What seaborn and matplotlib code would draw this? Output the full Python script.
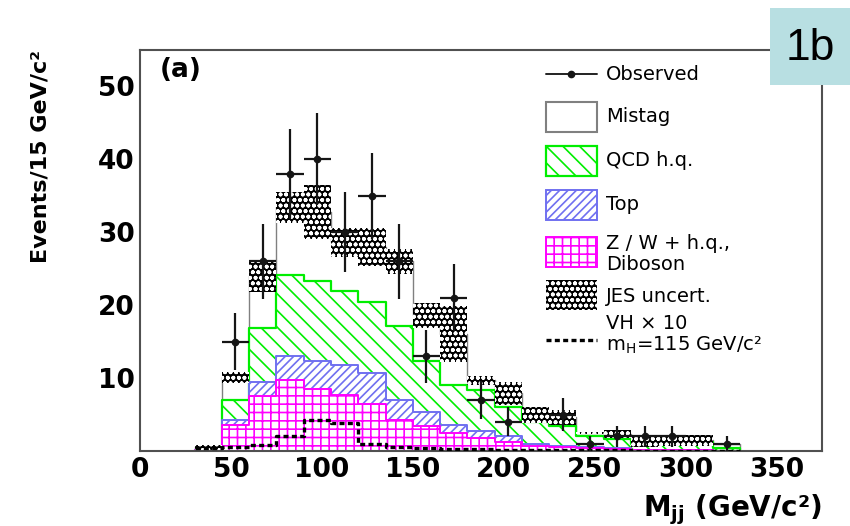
import numpy as np
import matplotlib
matplotlib.use("Agg")
import matplotlib.pyplot as plt
import seaborn as sns
from matplotlib.patches import Rectangle
from matplotlib.lines import Line2D
from matplotlib.transforms import Affine2D

# Dijet invariant mass, 15 GeV/c^2 bins
bin_edges = [30, 45, 60, 75, 90, 105, 120, 135, 150, 165, 180,
             195, 210, 225, 240, 255, 270, 285, 300, 315, 330]

# Background expectations per bin (events)
zw_diboson = [0.1, 3.6, 7.5, 9.8, 8.5, 7.7, 6.4, 4.3, 3.4, 2.5, 1.8,
              1.3, 0.7, 0.5, 0.4, 0.3, 0.15, 0.1, 0.1, 0.05]
top_pairs = [0.05, 0.7, 2.0, 3.2, 3.9, 4.1, 4.3, 2.7, 2.0, 1.1, 0.9,
             0.7, 0.3, 0.2, 0.1, 0.1, 0.05, 0.05, 0.0, 0.0]
qcd_hq = [0.05, 2.7, 7.4, 11.1, 10.9, 10.2, 9.8, 10.2, 7.0, 5.5, 5.7,
          4.1, 3.0, 2.7, 1.5, 1.2, 0.8, 0.85, 1.1, 0.35]
mistag = [0.3, 3.1, 7.1, 9.3, 9.5, 6.6, 7.5, 8.8, 6.2, 6.9, 1.3,
          1.8, 0.95, 1.2, 0.5, 0.75, 0.4, 0.4, 0.3, 0.5]
# Jet-energy-scale uncertainty on the total expectation (half width)
jes_unc = [0.3, 0.8, 2.2, 2.1, 3.7, 2.0, 2.6, 1.7, 1.75, 3.85, 0.65,
           1.55, 1.15, 1.0, 0.15, 0.55, 0.8, 0.75, 0.75, 0.1]
# Observed events
observed = [0, 15, 26, 38, 40, 30, 35, 26, 13, 21, 7,
            4, 0, 5, 1, 2, 2, 2, 0, 1]
# VH signal (m_H = 115 GeV/c^2) scaled by 10
vh_x10 = [0.4, 0.5, 0.8, 2.0, 4.3, 3.9, 1.0, 0.5, 0.4, 0.3, 0.3,
          0.2, 0.2, 0.15, 0.1, 0.1, 0.05, 0.0, 0.0, 0.0]

x_ticks = [0, 50, 100, 150, 200, 250, 300, 350]
y_ticks = [10, 20, 30, 40, 50]

sns.set_theme(style="white")
plt.rcParams.update({
    "font.family": ["DejaVu Sans"],
    "hatch.linewidth": 1.2,
    "axes.facecolor": "white",
    "figure.facecolor": "white",
    "text.color": "black",
    "axes.labelcolor": "black",
    "xtick.labelcolor": "black",
    "ytick.labelcolor": "black",
})

W, H = 850, 526
fig = plt.figure(figsize=(W / 100, H / 100), dpi=100)
ax = fig.add_axes([140 / W, 1 - 451 / H, 682 / W, 401 / H])
# pixel coordinates measured from the top-left corner of the figure
px = Affine2D().scale(1 / W, -1 / H).translate(0, 1) + fig.transFigure

edges = np.asarray(bin_edges, float)
centers = 0.5 * (edges[:-1] + edges[1:])
half_w = 0.5 * np.diff(edges)

stack = np.cumsum(np.vstack([zw_diboson, top_pairs, qcd_hq, mistag]), axis=0)
total = stack[3]

GREEN, BLUE, PINK, GREY = "#00ee00", "#7070f0", "#ff00ff", "#808080"

# Stacked histograms, drawn from the full stack down to the lowest component
layers = [
    (stack[3], GREY, None, 1.0),
    (stack[2], GREEN, "\\\\", 1.6),
    (stack[1], BLUE, "////", 1.4),
    (stack[0], PINK, "++", 1.4),
]
for z, (vals, col, hatch, lw) in enumerate(layers):
    sns.histplot(x=centers, weights=vals, bins=bin_edges, element="step",
                 fill=True, facecolor="white", edgecolor=col, hatch=hatch,
                 linewidth=lw, ax=ax, zorder=1 + 0.1 * z)

# JES uncertainty band
jes = np.asarray(jes_unc)
ax.bar(centers, 2 * jes, bottom=total - jes, width=np.diff(edges),
       color="black", edgecolor="white", hatch="ooo", linewidth=0, zorder=3)

# Signal, x10
sns.histplot(x=centers, weights=vh_x10, bins=bin_edges, element="step",
             fill=False, color="black", linewidth=2.4,
             linestyle=(0, (1.5, 1.0)), ax=ax, zorder=3.5)

# Observed data
obs = np.asarray(observed, float)
m = obs > 0
ax.errorbar(centers[m], obs[m], yerr=np.sqrt(obs[m]), xerr=half_w[m],
            fmt="o", ms=4.5, color="#151515", elinewidth=1.6, capsize=0,
            zorder=4)

ax.set_xlim(0, 375)
ax.set_ylim(0, 55)
ax.set_xticks(x_ticks)
ax.set_xticks(np.arange(0, 371, 10), minor=True)
ax.set_yticks(y_ticks)
ax.set_yticks(np.arange(0, 55, 2), minor=True)
ax.tick_params(which="both", direction="in", top=False, right=False,
               color="#444444", width=1.3, labelcolor="black")
ax.tick_params(which="major", length=11)
ax.tick_params(which="minor", length=6)
ax.tick_params(axis="x", pad=4)
ax.tick_params(axis="y", pad=4)
for lab in ax.get_xticklabels() + ax.get_yticklabels():
    lab.set_fontsize(19)
    lab.set_fontweight("bold")
for sp in ax.spines.values():
    sp.set_color("#505050")
    sp.set_linewidth(1.5)

ax.set_ylabel("Events/15 GeV/c²", loc="top", fontsize=16,
              fontweight="bold", labelpad=34, color="black")
ax.set_xlabel(r"M$_{\mathbf{jj}}$ (GeV/c²)", loc="right", fontsize=20,
              fontweight="bold", labelpad=7, color="black")

ax.text(0.029, 0.982, "(a)", transform=ax.transAxes, fontsize=19,
        fontweight="bold", va="top", ha="left", zorder=6)

# Legend
hx, hw, tx = 546, 51, 606
leg_font = dict(fontsize=14, va="center", ha="left", transform=px,
                color="black")
fig.add_artist(Line2D([hx, hx + hw], [74, 74], color="#222222", lw=1.4,
                      transform=px))
fig.add_artist(Line2D([hx + hw / 2], [74], marker="o", ms=4.5,
                      color="#151515", transform=px))
fig.text(tx, 74, "Observed", **leg_font)

boxes = [
    (102, dict(facecolor="white", edgecolor=GREY, hatch=None, lw=1.5),
     "Mistag", 117),
    (146, dict(facecolor="white", edgecolor=GREEN, hatch="\\\\", lw=1.6),
     "QCD h.q.", 161),
    (190, dict(facecolor="white", edgecolor=BLUE, hatch="////", lw=1.4),
     "Top", 205),
    (237, dict(facecolor="white", edgecolor=PINK, hatch="++", lw=1.4),
     "Z / W + h.q.,\nDiboson", 254),
    (280, dict(facecolor="black", edgecolor="white", hatch="ooo", lw=0),
     "JES uncert.", 296),
]
for ytop, style, label, ty in boxes:
    fig.add_artist(Rectangle((hx, ytop), hw, 30, transform=px, **style))
    fig.text(tx, ty, label, linespacing=1.1, **leg_font)

fig.add_artist(Line2D([hx, hx + hw], [340, 340], color="black", lw=2.4,
                      linestyle=(0, (1.5, 1.0)), transform=px))
fig.text(tx, 335, "VH × 10\nm$_\\mathrm{H}$=115 GeV/c²", linespacing=1.15,
         **leg_font)

# Panel tag
fig.add_artist(Rectangle((770, 8), 80, 77, transform=px,
                         facecolor="#b8dfe2", edgecolor="none", zorder=10))
fig.text(810, 48, "1b", transform=px, fontsize=32, family="Liberation Sans",
         ha="center", va="center", zorder=11, color="black")

fig.savefig("out.png", dpi=100)
